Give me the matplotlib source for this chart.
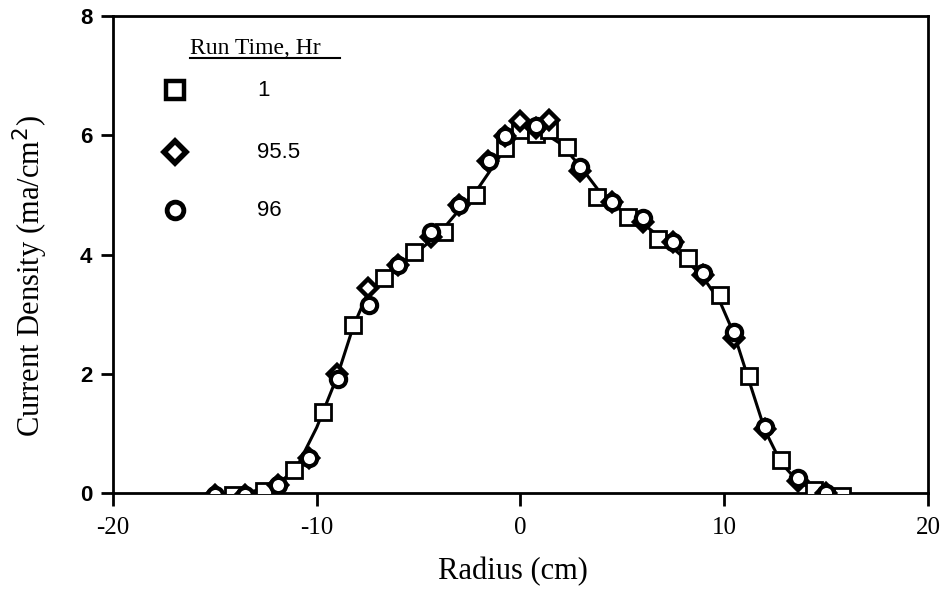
import matplotlib
matplotlib.use("Agg")
import matplotlib.pyplot as plt
from matplotlib.lines import Line2D

# Run time 1 hr (squares)
sq_x = [-14.1, -12.6, -11.1, -9.7, -8.2, -6.7, -5.25, -3.77, -2.2, -0.74, 0.0, 0.74, 1.42, 2.3, 3.77, 5.3, 6.76, 8.2, 9.8, 11.2, 12.8, 14.4, 15.8]
sq_y = [-0.03, 0.03, 0.38, 1.36, 2.82, 3.6, 4.04, 4.38, 5.0, 5.79, 6.08, 6.02, 6.08, 5.8, 4.97, 4.63, 4.26, 3.94, 3.32, 1.96, 0.55, 0.05, -0.05]

# Run time 95.5 hr (diamonds)
di_x = [-15.0, -13.5, -11.9, -10.4, -9.0, -7.5, -6.0, -4.4, -3.04, -1.6, -0.74, 0.0, 0.74, 1.42, 2.94, 4.5, 6.0, 7.5, 8.97, 10.5, 12.0, 13.6, 15.0]
di_y = [-0.03, -0.03, 0.13, 0.59, 2.0, 3.44, 3.83, 4.3, 4.83, 5.57, 5.98, 6.24, 6.12, 6.25, 5.4, 4.88, 4.55, 4.21, 3.66, 2.6, 1.07, 0.2, 0.0]

# Run time 96 hr (circles)
ci_x = [-15.0, -13.5, -11.9, -10.4, -8.97, -7.45, -6.0, -4.4, -3.04, -1.57, -0.74, 0.74, 2.94, 4.5, 6.0, 7.5, 8.97, 10.5, 12.0, 13.6, 15.0]
ci_y = [-0.03, -0.03, 0.13, 0.59, 1.92, 3.15, 3.83, 4.38, 4.83, 5.56, 5.98, 6.15, 5.47, 4.88, 4.61, 4.21, 3.69, 2.7, 1.11, 0.25, 0.0]

# Smooth fitted curve
fit_x = [-13.5, -12.0, -11.0, -10.0, -9.0, -8.2, -7.5, -6.5, -5.0, -4.0, -3.0, -2.0, -1.0, 0.0, 1.0, 2.0, 3.0, 4.0, 5.0, 6.0, 7.0, 8.0, 9.0, 9.8, 10.5, 11.2, 12.0, 12.8, 13.6, 14.5, 15.5]
fit_y = [0.0, 0.12, 0.42, 1.1, 1.95, 2.8, 3.35, 3.7, 4.06, 4.35, 4.75, 5.15, 5.65, 6.05, 6.07, 5.85, 5.45, 5.0, 4.72, 4.52, 4.25, 3.95, 3.6, 3.2, 2.65, 1.9, 1.05, 0.5, 0.2, 0.03, 0.0]

legend_title = "Run Time, Hr"
legend_labels = ["1", "95.5", "96"]

x_ticks = [-20, -10, 0, 10, 20]
y_ticks = [0, 2, 4, 6, 8]

serif = ["Liberation Serif", "DejaVu Serif"]
sans = ["Liberation Sans", "DejaVu Sans"]

W, H = 945, 603
fig = plt.figure(figsize=(W / 100, H / 100), dpi=100)
ax = fig.add_axes([113 / W, 1 - 493 / H, (928 - 113) / W, (493 - 16) / H])

ax.plot(fit_x, fit_y, color="black", lw=2.2, zorder=2)

sq_style = dict(marker="s", ms=11, mfc="white", mec="black", mew=2.0, ls="none", zorder=3)
di_style = dict(marker="D", ms=9, mfc="white", mec="black", mew=3.2, ls="none", zorder=4)
ci_style = dict(marker="o", ms=11, mfc="white", mec="black", mew=3.0, ls="none", zorder=5)

ax.plot(ci_x, ci_y, **ci_style)
ax.plot(di_x, di_y, **di_style)
ax.plot(sq_x, sq_y, **sq_style)

ax.set_xlim(-20, 20)
ax.set_ylim(0, 8)
ax.set_xticks(x_ticks)
ax.set_yticks(y_ticks)
ax.set_xticklabels([str(t) for t in x_ticks], fontfamily=serif, fontsize=18)
ax.set_yticklabels([str(t) for t in y_ticks], fontfamily=sans, fontsize=16, fontweight="bold")
ax.tick_params(axis="both", direction="out", length=9, width=2, colors="black", pad=6)
ax.tick_params(axis="x", pad=8)
for s in ax.spines.values():
    s.set_linewidth(2)

# Axis labels placed at their positions in the reference
fig.text(513 / W, 1 - 572 / H, "Radius (cm)", fontfamily=serif, fontsize=22,
         ha="center", va="center")
fig.text(30 / W, 1 - 276 / H, "Current Density (ma/cm$^2$)", fontfamily=serif,
         fontsize=22, rotation=90, ha="center", va="center")

# Legend drawn by hand
tr = ax.transAxes
def ax_xy(px, py):
    return ((px - 113) / (928 - 113), (493 - py) / (493 - 16))

tx, ty = ax_xy(190, 54)
ax.text(tx, ty, legend_title, transform=tr, fontfamily=serif, fontsize=17, ha="left", va="baseline")
ux0, uy = ax_xy(190, 58)
ux1, _ = ax_xy(340, 58)
ax.add_line(Line2D([ux0, ux1], [uy, uy], transform=tr, color="black", lw=1.5))

leg_sq = dict(sq_style, ms=13, mew=3.2)
leg_di = dict(di_style, ms=11, mew=4.0)
leg_ci = dict(ci_style, ms=12, mew=3.5)
rows = [90, 152, 210]
styles = [leg_sq, leg_di, leg_ci]
for py, lab, st in zip(rows, legend_labels, styles):
    mx, my = ax_xy(175, py)
    ax.plot([mx], [my], transform=tr, clip_on=False, **st)
    lx, _ = ax_xy(257, py)
    ax.text(lx, my, lab, transform=tr, fontfamily=sans, fontsize=16, ha="left", va="center")

fig.savefig("out.png", dpi=100)
